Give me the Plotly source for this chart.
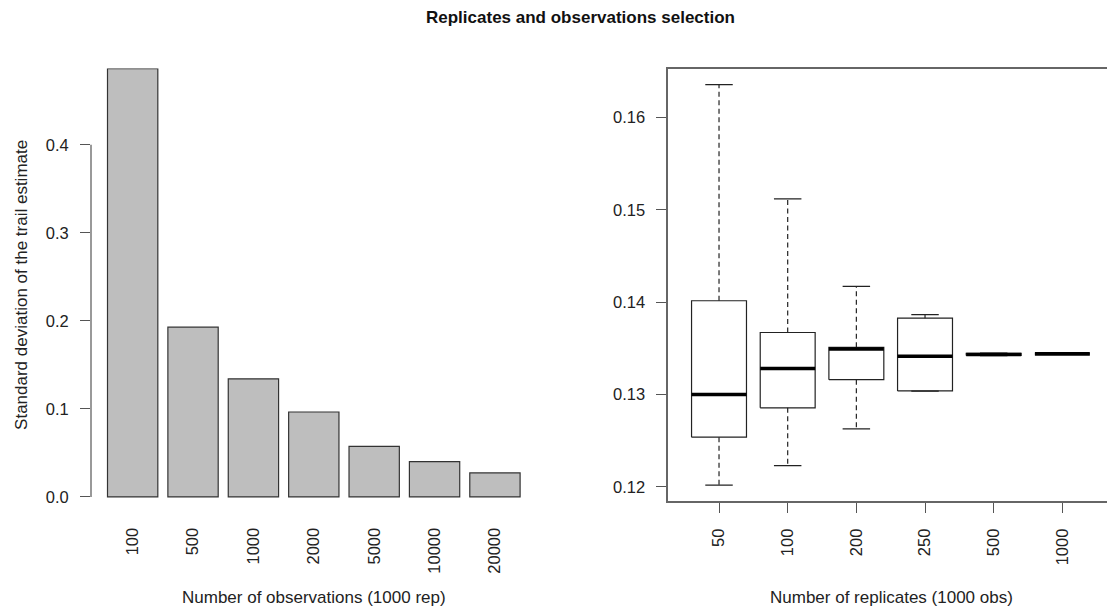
import plotly.graph_objects as go

# ---------------- data ----------------
obs_labels = ["100", "500", "1000", "2000", "5000", "10000", "20000"]
sd_values = [0.4867, 0.1929, 0.1342, 0.0965, 0.0574, 0.0401, 0.0273]

rep_labels = ["50", "100", "200", "250", "500", "1000"]
rep_lower = [0.12017, 0.12229, 0.12626, 0.13036, 0.13420, 0.13439]
rep_q1 = [0.12537, 0.12855, 0.13160, 0.13038, 0.13423, 0.13439]
rep_median = [0.12999, 0.13281, 0.13493, 0.13414, 0.13433, 0.13440]
rep_q3 = [0.14015, 0.13671, 0.13510, 0.13826, 0.13445, 0.13441]
rep_upper = [0.16357, 0.15118, 0.14170, 0.13865, 0.13447, 0.13441]

left_yticks = [0.0, 0.1, 0.2, 0.3, 0.4]
right_yticks = [0.12, 0.13, 0.14, 0.15, 0.16]

FONT = "Liberation Sans, Arial, sans-serif"
FS = 17
TFS = 16.5
W, H = 1107, 613

fig = go.Figure()

# ---------------- left: barplot ----------------
bar_x = [0.7 + 1.2 * i for i in range(len(obs_labels))]
fig.add_trace(go.Bar(
    x=bar_x, y=sd_values, width=[1.0] * len(bar_x),
    marker=dict(color="#BEBEBE", line=dict(color="#333333", width=1.2)),
    xaxis="x", yaxis="y", showlegend=False, hoverinfo="skip",
))

# ---------------- right: boxplot drawn R-style ----------------
bx, by = [], []
mx, my = [], []
wx, wy = [], []
cx, cy = [], []
for i in range(len(rep_labels)):
    c = i + 1
    bx += [c - 0.4, c + 0.4, c + 0.4, c - 0.4, c - 0.4, None]
    by += [rep_q1[i], rep_q1[i], rep_q3[i], rep_q3[i], rep_q1[i], None]
    mx += [c - 0.4, c + 0.4, None]
    my += [rep_median[i], rep_median[i], None]
    wx += [c, c, None, c, c, None]
    wy += [rep_q3[i], rep_upper[i], None, rep_q1[i], rep_lower[i], None]
    cx += [c - 0.2, c + 0.2, None, c - 0.2, c + 0.2, None]
    cy += [rep_upper[i], rep_upper[i], None, rep_lower[i], rep_lower[i], None]

common = dict(xaxis="x2", yaxis="y2", mode="lines", showlegend=False, hoverinfo="skip")
fig.add_trace(go.Scatter(x=wx, y=wy, line=dict(color="#222", width=1.2, dash="5px,3.5px"), **common))
fig.add_trace(go.Scatter(x=cx, y=cy, line=dict(color="#222", width=1.2), **common))
fig.add_trace(go.Scatter(x=bx, y=by, line=dict(color="#222", width=1.2), **common))
fig.add_trace(go.Scatter(x=mx, y=my, line=dict(color="#000", width=3.6), **common))

# ---------------- layout ----------------
ydom = [1 - 504.5 / H, 1 - 69 / H]
lo = min(rep_lower)
hi = max(rep_upper)
ext = (hi - lo) * 0.04
smax = max(sd_values)

tickfont = dict(family=FONT, size=TFS, color="#222")

fig.update_layout(
    width=W, height=H,
    margin=dict(l=0, r=0, t=0, b=0),
    paper_bgcolor="white", plot_bgcolor="white",
    font=dict(family=FONT, size=FS, color="#222"),
    xaxis=dict(
        domain=[91 / W, 536.6 / W], range=[-0.128, 8.728],
        tickmode="array", tickvals=bar_x, ticktext=obs_labels, tickangle=-90,
        ticks="outside", ticklen=10, tickcolor="rgba(0,0,0,0)", ticklabelstandoff=9,
        showline=False, showgrid=False, zeroline=False, tickfont=tickfont,
    ),
    yaxis=dict(
        domain=ydom, range=[-0.01 * smax, smax],
        tickmode="array", tickvals=left_yticks, ticktext=[f"{v:.1f}" for v in left_yticks],
        ticks="outside", ticklen=10, tickcolor="#555", tickwidth=1.2, ticklabelstandoff=8,
        showline=False, showgrid=False, zeroline=False, tickfont=tickfont,
    ),
    xaxis2=dict(
        domain=[668.2 / W, 1.0], range=[0.26, 6.65], anchor="y2",
        tickmode="array", tickvals=list(range(1, len(rep_labels) + 1)), ticktext=rep_labels,
        tickangle=-90, ticks="outside", ticklen=10, tickcolor="#555", tickwidth=1.2,
        ticklabelstandoff=9,
        showline=True, linecolor="#666", linewidth=1.6, mirror=True,
        showgrid=False, zeroline=False, tickfont=tickfont,
    ),
    yaxis2=dict(
        domain=ydom, range=[lo - ext, hi + ext], anchor="x2",
        tickmode="array", tickvals=right_yticks, ticktext=[f"{v:.2f}" for v in right_yticks],
        ticks="outside", ticklen=10, tickcolor="#555", tickwidth=1.2, ticklabelstandoff=8,
        showline=True, linecolor="#666", linewidth=1.6,
        showgrid=False, zeroline=False, tickfont=tickfont,
    ),
    shapes=[dict(type="line", xref="x domain", yref="y", x0=0, x1=0,
                 y0=left_yticks[0], y1=left_yticks[-1],
                 line=dict(color="#555", width=1.2))],
    annotations=[
        dict(text="<b>Replicates and observations selection</b>", xref="paper", yref="paper",
             x=580.8 / W, y=1 - 17.5 / H, xanchor="center", yanchor="middle",
             showarrow=False, font=dict(family=FONT, size=FS, color="#111")),
        dict(text="Standard deviation of the trail estimate", xref="paper", yref="paper",
             x=22 / W, y=1 - 286.8 / H, xanchor="center", yanchor="middle", textangle=-90,
             showarrow=False, font=dict(family=FONT, size=FS, color="#222")),
        dict(text="Number of observations (1000 rep)", xref="paper", yref="paper",
             x=313.8 / W, y=1 - 601 / H, xanchor="center", yanchor="middle",
             showarrow=False, font=dict(family=FONT, size=FS, color="#222")),
        dict(text="Number of replicates (1000 obs)", xref="paper", yref="paper",
             x=891 / W, y=1 - 601 / H, xanchor="center", yanchor="middle",
             showarrow=False, font=dict(family=FONT, size=FS, color="#222")),
    ],
)

fig.write_html("out.html")
